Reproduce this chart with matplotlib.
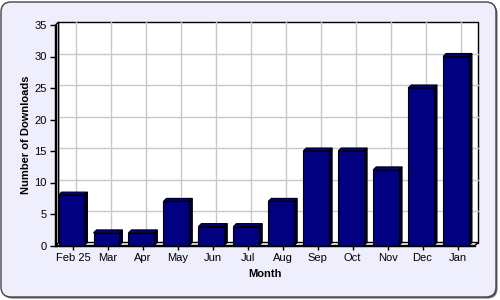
import numpy as np
import matplotlib
matplotlib.use("Agg")
import matplotlib.pyplot as plt
import matplotlib.transforms as mtransforms
from matplotlib.patches import FancyBboxPatch, Polygon, Rectangle

plt.rcParams['font.family'] = ['Liberation Sans', 'DejaVu Sans']

months = ["Feb 25", "Mar", "Apr", "May", "Jun", "Jul", "Aug", "Sep", "Oct", "Nov", "Dec", "Jan"]
downloads = [8, 2, 2, 7, 3, 3, 7, 15, 15, 12, 25, 30]
y_ticks = [0, 5, 10, 15, 20, 25, 30, 35]

bg = "#eeeefc"
navy = "#000080"
depth = 3  # 3d depth, pixels

fig = plt.figure(figsize=(5, 3), dpi=100)
fig.patch.set_facecolor("white")
px = mtransforms.IdentityTransform()

# rounded background with shadow
fig.patches.append(FancyBboxPatch((2.5, 1.5), 495, 295, boxstyle="round,pad=0,rounding_size=10",
                                  fc="#666666", ec="none", transform=px, figure=fig, zorder=-10))
fig.patches.append(FancyBboxPatch((1, 3), 495, 295, boxstyle="round,pad=0,rounding_size=10",
                                  fc=bg, ec="#444444", lw=1, transform=px, figure=fig, zorder=-9))

ax = fig.add_axes([55.5 / 500, (300 - 245.5) / 300, (475 - 55.5) / 500, (245.5 - 25) / 300])
ax.set_facecolor("none")
ax.set_xlim(-0.5, 11.5)
ax.set_ylim(0, 35)
x = np.arange(len(months))

# depth in data units
dx = depth * 12 / (475 - 55.5)
dy = depth * 35 / (245.5 - 25)

# back wall + grid
ax.add_patch(Rectangle((-0.5 + dx, dy), 12, 35, fc="white", ec="black", lw=1, zorder=0, clip_on=False))
for v in y_ticks[1:-1]:
    ax.plot([-0.5 + dx, 11.5 + dx], [v + dy, v + dy], color="#c8c8c8", lw=1, zorder=1, clip_on=False)
for xi in x:
    ax.plot([xi + dx, xi + dx], [dy, 35 + dy], color="#c8c8c8", lw=1, zorder=1, clip_on=False)

# floor and left wall
ax.add_patch(Polygon([(-0.5, 0), (11.5, 0), (11.5 + dx, dy), (-0.5 + dx, dy)],
                     fc="white", ec="black", lw=1, zorder=1.5, clip_on=False))
ax.add_patch(Polygon([(-0.5, 0), (-0.5 + dx, dy), (-0.5 + dx, 35 + dy), (-0.5, 35)],
                     fc="white", ec="black", lw=1, zorder=1.5, clip_on=False))

# 3d bars
w = 0.74
for xi, h in zip(x, downloads):
    x0, x1 = xi - w / 2 - dx / 2, xi + w / 2 - dx / 2
    ax.add_patch(Polygon([(x1, 0), (x1 + dx, dy), (x1 + dx, h + dy), (x1, h)],
                         fc="#000030", ec="black", lw=0.8, zorder=3, clip_on=False))
    ax.add_patch(Polygon([(x0, h), (x1, h), (x1 + dx, h + dy), (x0 + dx, h + dy)],
                         fc=navy, ec="black", lw=0.8, zorder=3, clip_on=False))
    ax.add_patch(Rectangle((x0, 0), x1 - x0, h, fc=navy, ec="black", lw=0.8, zorder=4, clip_on=False))

for s in ["top", "right"]:
    ax.spines[s].set_visible(False)
ax.spines["left"].set_linewidth(1)
ax.spines["bottom"].set_linewidth(1)
ax.spines["left"].set_zorder(5)
ax.spines["bottom"].set_zorder(5)

ax.set_xticks(x)
ax.set_xticklabels(months, fontsize=8)
ax.set_yticks(y_ticks)
ax.set_yticklabels([str(v) for v in y_ticks], fontsize=8)
ax.tick_params(axis="x", length=3, width=1, pad=2.5)
ax.tick_params(axis="y", length=4, width=1, pad=2.5)

ax.set_xlabel("Month", fontsize=8, fontweight="bold", labelpad=4)
ax.set_ylabel("Number of Downloads", fontsize=8, fontweight="bold", labelpad=2)

fig.savefig("out.png", dpi=100, facecolor=fig.get_facecolor())
